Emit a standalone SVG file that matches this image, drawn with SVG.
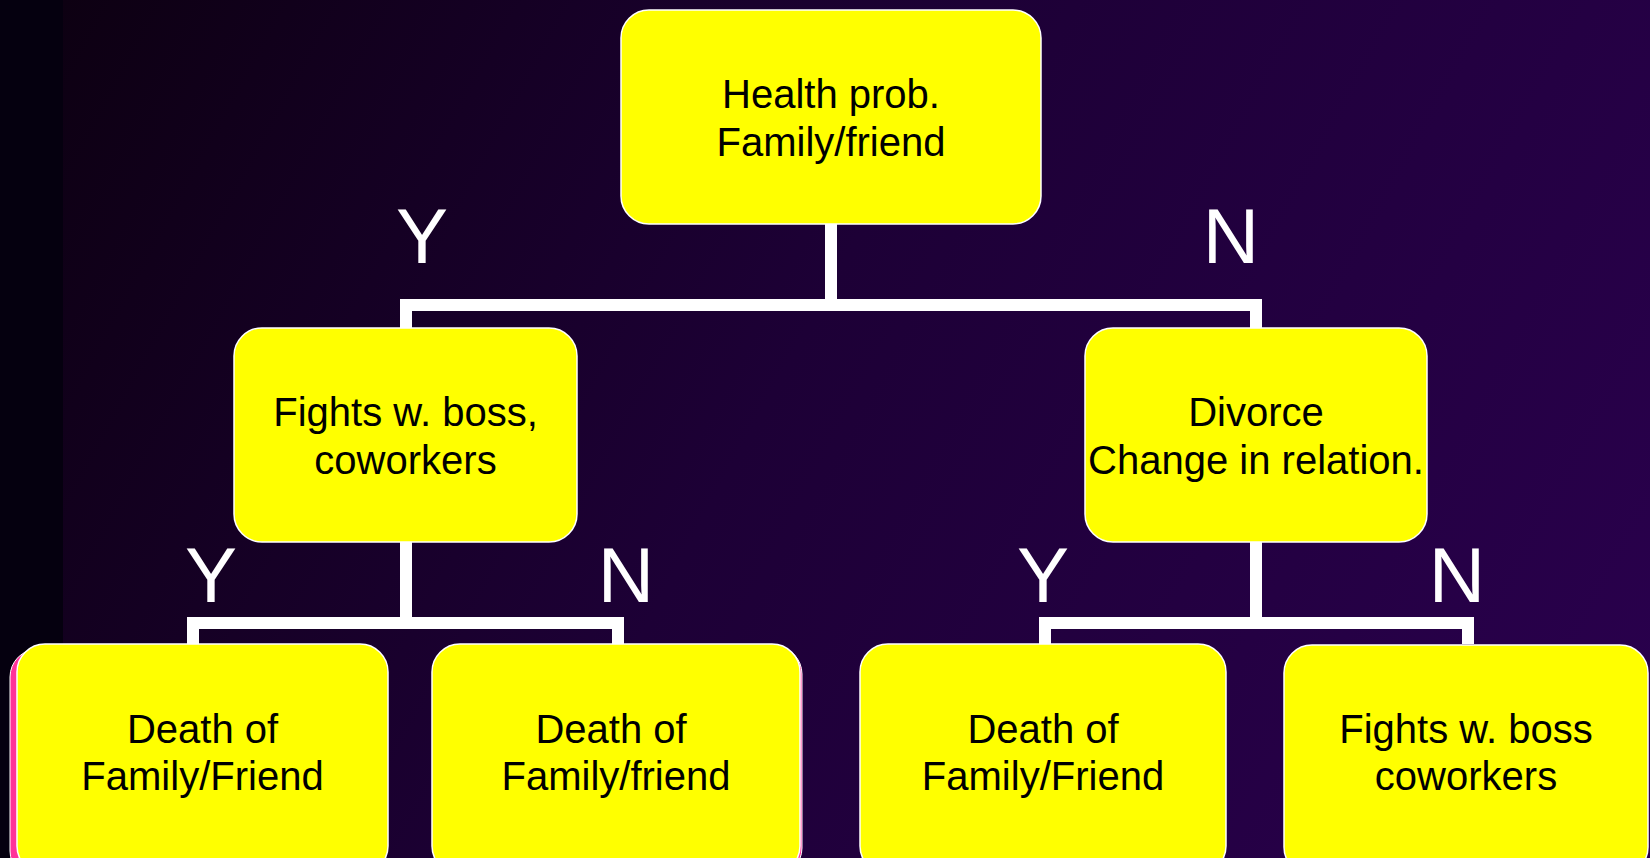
<svg xmlns="http://www.w3.org/2000/svg" width="1650" height="858" viewBox="0 0 1650 858">
  <defs>
    <linearGradient id="bg" gradientUnits="userSpaceOnUse" x1="63" y1="0" x2="1650" y2="858">
      <stop offset="0" stop-color="#0d0012"/>
      <stop offset="0.45" stop-color="#1d0036"/>
      <stop offset="1" stop-color="#2a004e"/>
    </linearGradient>
  </defs>
  <style>
    .box { fill: #ffff00; stroke: #ffffff; stroke-width: 1.5; }
    .shadow { fill: #ff3399; stroke: #ffffff; stroke-width: 1; }
    .t { font-family: "Liberation Sans", Arial, sans-serif; font-size: 40px; fill: #000000; text-anchor: middle; }
    .yn { font-family: "Liberation Sans", Arial, sans-serif; font-size: 78px; fill: #ffffff; text-anchor: middle; }
    .conn { fill: none; stroke: #ffffff; stroke-width: 12; stroke-linejoin: miter; }
  </style>
  <rect x="0" y="0" width="1650" height="858" fill="url(#bg)"/>
  <rect x="0" y="0" width="63" height="858" fill="#05000f"/>

  <g id="connectors">
    <path class="conn" d="M831 224 V305 M406 328 V305 H1256 V328"/>
    <path class="conn" d="M406 542 V623 M193 644 V623 H618 V644"/>
    <path class="conn" d="M1256 542 V623 M1045 644 V623 H1468 V644"/>
  </g>

  <g id="labels">
    <text class="yn" x="422" y="263">Y</text>
    <text class="yn" x="1231" y="263">N</text>
    <text class="yn" x="211" y="602">Y</text>
    <text class="yn" x="626" y="602">N</text>
    <text class="yn" x="1043" y="602">Y</text>
    <text class="yn" x="1457" y="602">N</text>
  </g>

  <g id="node-health">
    <rect class="box" x="621" y="10" width="420" height="214" rx="28"/>
    <text class="t" x="831" y="108">Health prob.</text>
    <text class="t" x="831" y="156">Family/friend</text>
  </g>

  <g id="node-fights">
    <rect class="box" x="234" y="328" width="343" height="214" rx="28"/>
    <text class="t" x="405.5" y="426">Fights w. boss,</text>
    <text class="t" x="405.5" y="474">coworkers</text>
  </g>

  <g id="node-divorce">
    <rect class="box" x="1085" y="328" width="342" height="214" rx="28"/>
    <text class="t" x="1256" y="426">Divorce</text>
    <text class="t" x="1256" y="474">Change in relation.</text>
  </g>

  <g id="node-death1">
    <rect class="shadow" x="10" y="649" width="371" height="230" rx="28"/>
    <rect class="box" x="17" y="644" width="371" height="230" rx="28"/>
    <text class="t" x="202.5" y="743">Death of</text>
    <text class="t" x="202.5" y="790">Family/Friend</text>
  </g>

  <g id="node-death2">
    <rect class="shadow" x="434" y="646" width="368" height="230" rx="28"/>
    <rect class="box" x="432" y="644" width="368" height="230" rx="28"/>
    <text class="t" x="611" y="743">Death of</text>
    <text class="t" x="616" y="790">Family/friend</text>
  </g>

  <g id="node-death3">
    <rect class="box" x="860" y="644" width="366" height="230" rx="28"/>
    <text class="t" x="1043" y="743">Death of</text>
    <text class="t" x="1043" y="790">Family/Friend</text>
  </g>

  <g id="node-fights2">
    <rect class="box" x="1284" y="645" width="364" height="230" rx="28"/>
    <text class="t" x="1466" y="743">Fights w. boss</text>
    <text class="t" x="1466" y="790">coworkers</text>
  </g>
</svg>
